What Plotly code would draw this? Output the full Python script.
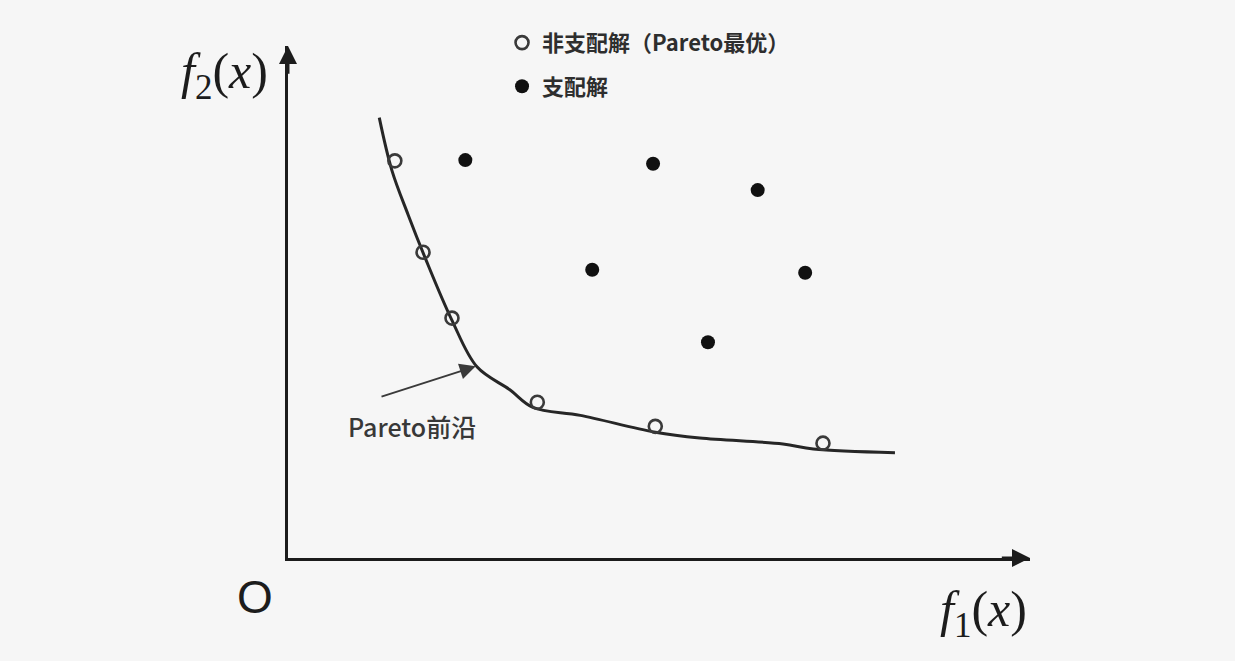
import plotly.graph_objects as go

# Pareto front curve (hand-drawn line)
front_x = [1.23, 1.40, 1.62, 1.85, 2.21, 2.55, 2.99, 3.30, 3.94, 4.95, 5.55, 6.67, 7.08, 8.18]
front_y = [6.02, 5.30, 4.69, 4.10, 3.25, 2.61, 2.30, 2.06, 1.95, 1.72, 1.64, 1.56, 1.49, 1.44]

# Non-dominated solutions (Pareto optimal)
nd_x = [1.44, 1.82, 2.21, 3.36, 4.95, 7.21]
nd_y = [5.43, 4.18, 3.28, 2.13, 1.80, 1.57]

# Dominated solutions
d_x = [2.39, 4.92, 6.33, 4.10, 6.97, 5.66]
d_y = [5.44, 5.39, 5.03, 3.94, 3.90, 2.95]

legend_names = ["非支配解（Pareto最优）", "支配解"]
front_label = "Pareto前沿"
x_label = "<i>f</i><sub>1</sub>(<i>x</i>)"
y_label = "<i>f</i><sub>2</sub>(<i>x</i>)"
origin_label = "O"

BG = "#f6f6f6"
INK = "#1c1c1c"

fig = go.Figure()
fig.add_trace(go.Scatter(
    x=front_x, y=front_y, mode="lines", line=dict(color="#262626", width=3, shape="spline", smoothing=1.0),
    showlegend=False, hoverinfo="skip"))
fig.add_trace(go.Scatter(
    x=nd_x, y=nd_y, mode="markers", name=legend_names[0], legendgroup="a",
    marker=dict(symbol="circle-open", size=13, color="#3a3a3a", line=dict(width=2.6, color="#3a3a3a"))))
fig.add_trace(go.Scatter(
    x=d_x, y=d_y, mode="markers", name=legend_names[1], legendgroup="b",
    marker=dict(symbol="circle", size=14, color="#111111")))

# axis arrowheads
fig.add_annotation(x=10, y=0, ax=9.6, ay=0, xref="x", yref="y", axref="x", ayref="y",
                   showarrow=True, arrowhead=2, arrowsize=1.2, arrowwidth=3, arrowcolor=INK, text="")
fig.add_annotation(x=0, y=7, ax=0, ay=6.6, xref="x", yref="y", axref="x", ayref="y",
                   showarrow=True, arrowhead=2, arrowsize=1.2, arrowwidth=3, arrowcolor=INK, text="")

# Pareto front pointer
fig.add_annotation(x=2.53, y=2.62, ax=1.24, ay=2.20, xref="x", yref="y", axref="x", ayref="y",
                   showarrow=True, arrowhead=2, arrowsize=1.6, arrowwidth=2, arrowcolor="#3a3a3a", text="")
fig.add_annotation(x=1.67, y=1.80, xref="x", yref="y", text=front_label, showarrow=False,
                   xanchor="center", yanchor="middle",
                   font=dict(family="Noto Sans CJK SC", size=25, color="#383838", weight=500))

# axis labels
fig.add_annotation(x=-0.086, y=0.943, xref="paper", yref="paper", text=y_label, showarrow=False,
                   xanchor="center", yanchor="middle",
                   font=dict(family="Liberation Serif", size=50, color=INK))
fig.add_annotation(x=0.938, y=-0.107, xref="paper", yref="paper", text=x_label, showarrow=False,
                   xanchor="center", yanchor="middle",
                   font=dict(family="Liberation Serif", size=50, color=INK))
fig.add_annotation(x=-0.044, y=-0.076, xref="paper", yref="paper", text=origin_label, showarrow=False,
                   xanchor="center", yanchor="middle",
                   font=dict(family="Liberation Sans", size=46, color=INK))

fig.update_xaxes(range=[0, 10], showgrid=False, zeroline=False, showticklabels=False, ticks="",
                 showline=True, linewidth=3, linecolor=INK)
fig.update_yaxes(range=[0, 7], showgrid=False, zeroline=False, showticklabels=False, ticks="",
                 showline=True, linewidth=3, linecolor=INK)

fig.update_layout(
    width=1235, height=661,
    margin=dict(l=288, r=205, t=46, b=103, autoexpand=False),
    paper_bgcolor=BG, plot_bgcolor=BG,
    legend=dict(x=0.4065, y=0.967, xref="container", yref="container", xanchor="left", yanchor="top",
                bgcolor="rgba(0,0,0,0)", tracegroupgap=12,
                font=dict(family="Noto Sans CJK SC", size=22, color="#2e2e2e", weight="bold")),
)

fig.write_html("out.html")
